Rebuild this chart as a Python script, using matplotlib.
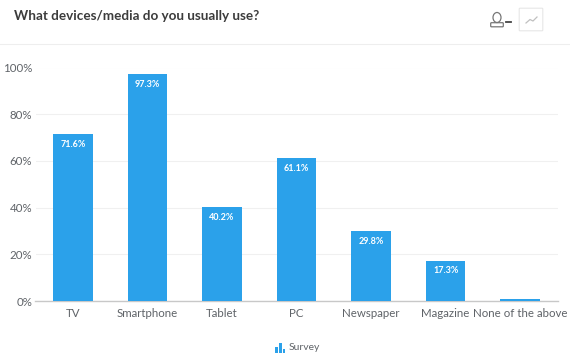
import matplotlib
matplotlib.use('Agg')
import matplotlib.pyplot as plt
from matplotlib.patches import Rectangle, Ellipse, FancyBboxPatch

plt.rcParams['font.family'] = ['Lato', 'DejaVu Sans']

categories = ['TV', 'Smartphone', 'Tablet', 'PC', 'Newspaper', 'Magazine', 'None of the above']
values = [71.6, 97.3, 40.2, 61.1, 29.8, 17.3, 0.9]
labels = ['71.6%', '97.3%', '40.2%', '61.1%', '29.8%', '17.3%', '']
y_ticks = [0, 20, 40, 60, 80, 100]
legend_heights = [6, 10, 4]

W, H = 570, 363
fig = plt.figure(figsize=(W / 100, H / 100), dpi=100)
fig.patch.set_facecolor('white')

# plot area in pixels: 0% at y=301, 100% at y=67.5
ax = fig.add_axes([35.5 / W, 1 - 301 / H, 522 / W, 233.5 / H])
ax.set_xlim(-0.5, 6.5)
ax.set_ylim(0, 100)
bar_color = '#2ba1ea'
text_color = '#5f6368'
ax.bar(range(7), values, width=0.53, color=bar_color, zorder=3)
for i, v in enumerate(values):
    if labels[i]:
        ax.text(i, v - 4.4, labels[i], color='white', fontsize=6.5, fontweight='bold',
                ha='center', va='center', zorder=4)
ax.set_yticks(y_ticks)
ax.set_yticklabels([str(t) + '%' for t in y_ticks], color=text_color, fontsize=8.3)
ax.set_xticks(range(7))
ax.set_xticklabels(categories, color=text_color, fontsize=8.3)
ax.tick_params(axis='both', length=0)
ax.tick_params(axis='x', pad=5)
ax.tick_params(axis='y', pad=2.5)
ax.grid(axis='y', color='#f0f0f0', linewidth=0.8, zorder=0)
for s in ['top', 'right', 'left']:
    ax.spines[s].set_visible(False)
ax.spines['bottom'].set_color('#c8c8c8')
ax.spines['bottom'].set_linewidth(1.0)

# full figure overlay in pixel coords for header pieces
ov = fig.add_axes([0, 0, 1, 1], facecolor='none')
ov.set_xlim(0, W)
ov.set_ylim(H, 0)
ov.axis('off')
ov.text(14, 16, 'What devices/media do you usually use?', fontsize=9.7, fontweight='bold',
        color='#3c3c3c', va='center', ha='left')
ov.plot([0, W], [44, 44], color='#eeeeee', lw=0.8)

# person icon
ov.add_patch(Ellipse((497, 17.5), 8, 10, fill=False, ec='#777777', lw=0.9))
ov.add_patch(FancyBboxPatch((491.5, 23.5), 11, 2.5, boxstyle='round,pad=0.8', fill=False, ec='#777777', lw=0.9))
ov.plot([506, 511], [22, 22], color='#444444', lw=1.3)
# trend button
ov.add_patch(FancyBboxPatch((520, 9), 22, 21, boxstyle='round,pad=0.8', fill=False, ec='#e6e6e6', lw=0.8))
ov.plot([526, 530, 533, 537], [23, 19.5, 21, 17], color='#c0c0c0', lw=0.9)

# legend
for k, h in enumerate(legend_heights):
    ov.add_patch(Rectangle((275.3 + k * 3.8, 352.5 - h), 2.4, h, color=bar_color, lw=0))
ov.text(289, 347.5, 'Survey', fontsize=7.5, color=text_color, va='center', ha='left')

fig.savefig('out.png', dpi=100)
